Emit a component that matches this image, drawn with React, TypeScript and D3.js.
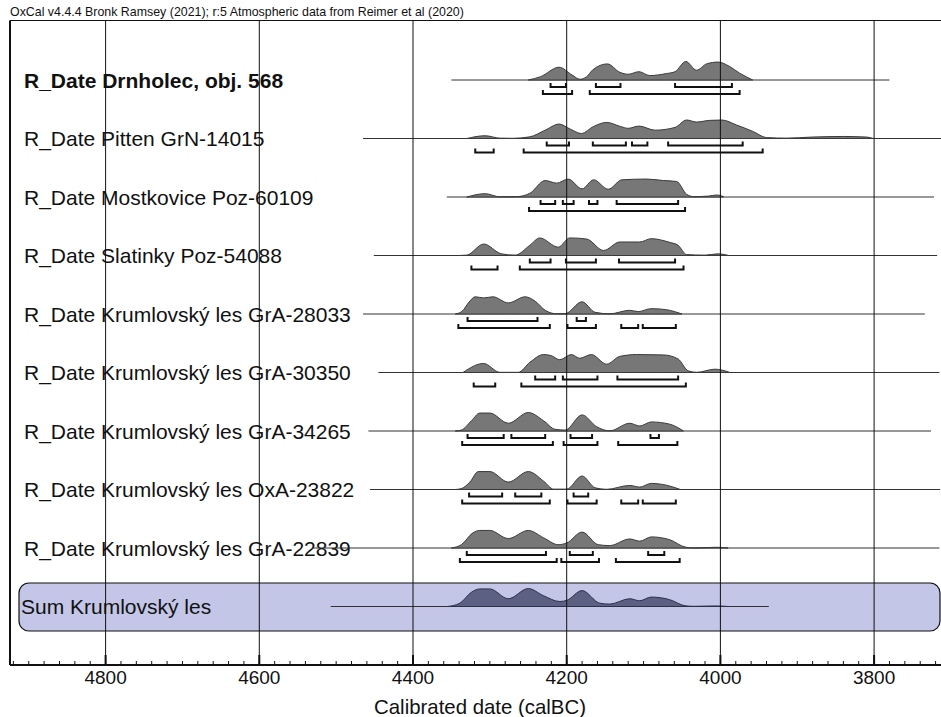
import React from "react";
import * as d3 from "d3";

// OxCal multiplot: calibrated dates (calBC), likelihoods normalised to 1
const header = "OxCal v4.4.4 Bronk Ramsey (2021); r:5 Atmospheric data from Reimer et al (2020)";

const labels = [
  "R_Date Drnholec, obj. 568",
  "R_Date Pitten GrN-14015",
  "R_Date Mostkovice Poz-60109",
  "R_Date Slatinky Poz-54088",
  "R_Date Krumlovský les GrA-28033",
  "R_Date Krumlovský les GrA-30350",
  "R_Date Krumlovský les GrA-34265",
  "R_Date Krumlovský les OxA-23822",
  "R_Date Krumlovský les GrA-22839",
  "Sum Krumlovský les",
];

// extent of the calibration line drawn for each row [from, to] calBC
const spans = [
  [4350, 3780], [4465, 3700], [4356, 3722], [4451, 3718], [4465, 3734],
  [4445, 3715], [4458, 3726], [4456, 3714], [4531, 3715], [4507, 3937],
];

// probability distributions [year calBC, relative probability]
const dists = [
  [[4250,0],[4234,0.18],[4210,0.69],[4193,0.27],[4183,0.04],[4174,0.18],[4166,0.55],[4147,0.87],[4131,0.42],[4120,0.31],[4106,0.45],[4092,0.24],[4070,0.35],[4059,0.45],[4045,1.0],[4031,0.53],[4018,0.87],[4003,0.97],[3988,0.73],[3975,0.37],[3958,0]],
  [[4330,0],[4306,0.15],[4287,0.02],[4270,0.01],[4248,0.09],[4228,0.45],[4210,0.78],[4195,0.5],[4181,0.27],[4165,0.65],[4148,0.87],[4130,0.65],[4120,0.55],[4106,0.67],[4085,0.45],[4059,0.6],[4044,1.0],[4031,0.89],[4014,0.98],[3998,1.0],[3979,0.73],[3957,0.37],[3940,0.05],[3914,0.02],[3880,0.08],[3840,0.11],[3810,0.08],[3801,0]],
  [[4330,0],[4306,0.18],[4287,0.01],[4265,0.02],[4248,0.2],[4228,0.89],[4213,0.75],[4198,0.97],[4180,0.44],[4165,0.93],[4146,0.42],[4128,0.93],[4096,0.97],[4074,0.89],[4057,0.84],[4044,0.15],[4035,0.02],[4015,0.05],[4005,0.11],[3996,0.02]],
  [[4340,0],[4330,0.02],[4308,0.62],[4285,0.09],[4267,0.02],[4248,0.55],[4235,0.95],[4211,0.45],[4196,0.95],[4174,0.89],[4152,0.27],[4131,0.73],[4105,0.73],[4090,0.91],[4066,0.71],[4055,0.55],[4044,0.05],[4020,0.02],[4003,0.09],[3990,0.01]],
  [[4345,0],[4336,0.15],[4327,0.65],[4319,0.93],[4308,0.87],[4296,0.93],[4276,0.6],[4254,0.93],[4241,0.69],[4228,0.2],[4213,0.01],[4202,0.02],[4180,0.66],[4163,0.09],[4144,0.01],[4118,0.2],[4107,0.13],[4090,0.29],[4070,0.23],[4050,0]],
  [[4335,0],[4308,0.49],[4287,0.01],[4263,0.01],[4248,0.55],[4230,0.97],[4220,0.91],[4209,0.69],[4194,0.97],[4183,0.77],[4168,0.97],[4148,0.45],[4131,0.87],[4109,0.97],[4074,0.95],[4055,0.73],[4042,0.09],[4031,0.01],[4007,0.18],[3988,0.01]],
  [[4345,0],[4337,0.05],[4324,0.55],[4313,0.97],[4300,0.97],[4276,0.42],[4250,1.0],[4230,0.55],[4215,0.09],[4202,0.05],[4180,0.87],[4161,0.23],[4144,0.01],[4118,0.42],[4105,0.27],[4090,0.49],[4066,0.37],[4048,0]],
  [[4345,0],[4337,0.05],[4326,0.4],[4315,0.97],[4300,0.97],[4276,0.4],[4250,0.97],[4230,0.45],[4217,0.02],[4200,0.02],[4180,0.73],[4163,0.09],[4148,0.01],[4118,0.22],[4105,0.13],[4090,0.33],[4070,0.23],[4052,0]],
  [[4350,0],[4337,0.18],[4322,0.82],[4313,0.95],[4300,0.95],[4276,0.51],[4250,0.95],[4230,0.55],[4211,0.18],[4200,0.27],[4180,0.86],[4159,0.18],[4144,0.13],[4118,0.49],[4105,0.37],[4090,0.6],[4066,0.45],[4046,0.05],[4035,0],[4005,0.04],[3990,0]],
  [[4355,0],[4339,0.18],[4324,0.77],[4313,0.95],[4300,0.95],[4276,0.42],[4250,0.97],[4230,0.58],[4209,0.27],[4200,0.33],[4180,0.86],[4157,0.18],[4144,0.13],[4118,0.42],[4105,0.31],[4090,0.51],[4066,0.37],[4046,0.04],[4035,0.01],[4005,0.03],[3990,0]],
];

// 68.2% and 95.4% hpd ranges
const range68 = [
  [[4221,4201],[4162,4130],[4059,3985]],
  [[4226,4197],[4166,4123],[4115,4095],[4068,3971]],
  [[4234,4215],[4205,4191],[4171,4160],[4135,4055]],
  [[4248,4221],[4201,4162],[4132,4059]],
  [[4329,4238],[4187,4175]],
  [[4241,4215],[4205,4160],[4134,4055]],
  [[4329,4282],[4272,4228],[4195,4167],[4091,4080]],
  [[4327,4284],[4267,4233],[4191,4172]],
  [[4330,4227],[4196,4166],[4094,4073]],
  [],
];
const range95 = [
  [[4231,4193],[4170,3975]],
  [[4319,4295],[4256,3945]],
  [[4249,4046]],
  [[4324,4290],[4261,4048]],
  [[4341,4222],[4199,4162],[4129,4107],[4101,4058]],
  [[4321,4293],[4259,4045]],
  [[4336,4218],[4204,4160],[4133,4056]],
  [[4336,4222],[4199,4161],[4129,4107],[4101,4058]],
  [[4339,4213],[4207,4158],[4136,4053]],
  [],
];

const majorTicks = [4800, 4600, 4400, 4200, 4000, 3800];

const W = 941;
const H = 717;
const font = "'Liberation Sans', Arial, sans-serif";

export default function App() {
  const left = 10;
  const top = 20.5;
  const axisY = 665;

  const x = d3.scaleLinear().domain([4800, 3800]).range([105.6, 874.1]);
  const rowY = d3.scaleLinear().domain([0, labels.length - 1]).range([80, 606.5]);
  const h = d3.scaleLinear().domain([0, 1]).range([0, 18.5]);

  const minor = d3.range(4920, 3700, -20);
  const sumIdx = labels.length - 1;

  const bracket = (r, y, key) => {
    const x0 = x(r[0]);
    const x1 = x(r[1]);
    return (
      <path
        key={key}
        d={`M${x0},${y - 4}V${y}H${x1}V${y - 4}`}
        fill="none"
        stroke="#111"
        strokeWidth={2}
      />
    );
  };

  return (
    <svg
      width={W}
      height={H}
      style={{ position: "absolute", left: 0, top: 0, background: "#fff" }}
      fontFamily={font}
    >
      <defs>
        <clipPath id="plot">
          <rect x={left} y={top} width={W - left} height={axisY - top} />
        </clipPath>
      </defs>

      <text x={10} y={15.5} fontSize={12.4} fill="#111">
        {header}
      </text>

      <g clipPath="url(#plot)">
        <rect
          x={19}
          y={rowY(sumIdx) - 23.5}
          width={921}
          height={48}
          rx={10}
          fill="#c3c6e6"
          stroke="#111"
          strokeWidth={1.2}
        />

        {labels.map((l, i) => (
          <text
            key={l}
            x={i === sumIdx ? 21 : 24}
            y={rowY(i) + 7.5}
            fontSize={21}
            fontWeight={i === 0 ? "bold" : "normal"}
            fill="#111"
          >
            {l}
          </text>
        ))}

        {dists.map((d, i) => {
          const y0 = rowY(i);
          const area = d3
            .area()
            .x((p) => x(p[0]))
            .y0(y0)
            .y1((p) => y0 - h(p[1]))
            .curve(d3.curveMonotoneX);
          const isSum = i === sumIdx;
          return (
            <g key={i}>
              <line
                x1={x(spans[i][0])}
                x2={x(spans[i][1])}
                y1={y0}
                y2={y0}
                stroke="#333"
                strokeWidth={1}
              />
              <path
                d={area(d)}
                fill={isSum ? "#5c6183" : "#777"}
                stroke={isSum ? "#2c2f48" : "#3a3a3a"}
                strokeWidth={1}
              />
              {range68[i].map((r, j) => bracket(r, y0 + 7, `a${j}`))}
              {range95[i].map((r, j) => bracket(r, y0 + 14, `b${j}`))}
            </g>
          );
        })}

        {majorTicks.map((t) => (
          <line key={t} x1={x(t)} x2={x(t)} y1={top} y2={axisY} stroke="#111" strokeWidth={1} />
        ))}
      </g>

      {/* frame */}
      <line x1={left} x2={W} y1={top} y2={top} stroke="#111" strokeWidth={1} />
      <line x1={left} x2={left} y1={top} y2={axisY} stroke="#111" strokeWidth={2} />

      {/* x axis */}
      <line x1={left} x2={W} y1={axisY} y2={axisY} stroke="#111" strokeWidth={2} />
      {minor
        .filter((t) => x(t) >= left && x(t) <= W)
        .map((t) => (
          <line key={t} x1={x(t)} x2={x(t)} y1={axisY - 4} y2={axisY} stroke="#111" strokeWidth={1} />
        ))}
      {majorTicks.map((t) => (
        <g key={t}>
          <line x1={x(t)} x2={x(t)} y1={axisY - 10} y2={axisY} stroke="#111" strokeWidth={2} />
          <text x={x(t)} y={axisY + 19} fontSize={19} textAnchor="middle" fill="#111">
            {t}
          </text>
        </g>
      ))}
      <text x={480} y={714} fontSize={20.4} textAnchor="middle" fill="#111">
        Calibrated date (calBC)
      </text>
    </svg>
  );
}
